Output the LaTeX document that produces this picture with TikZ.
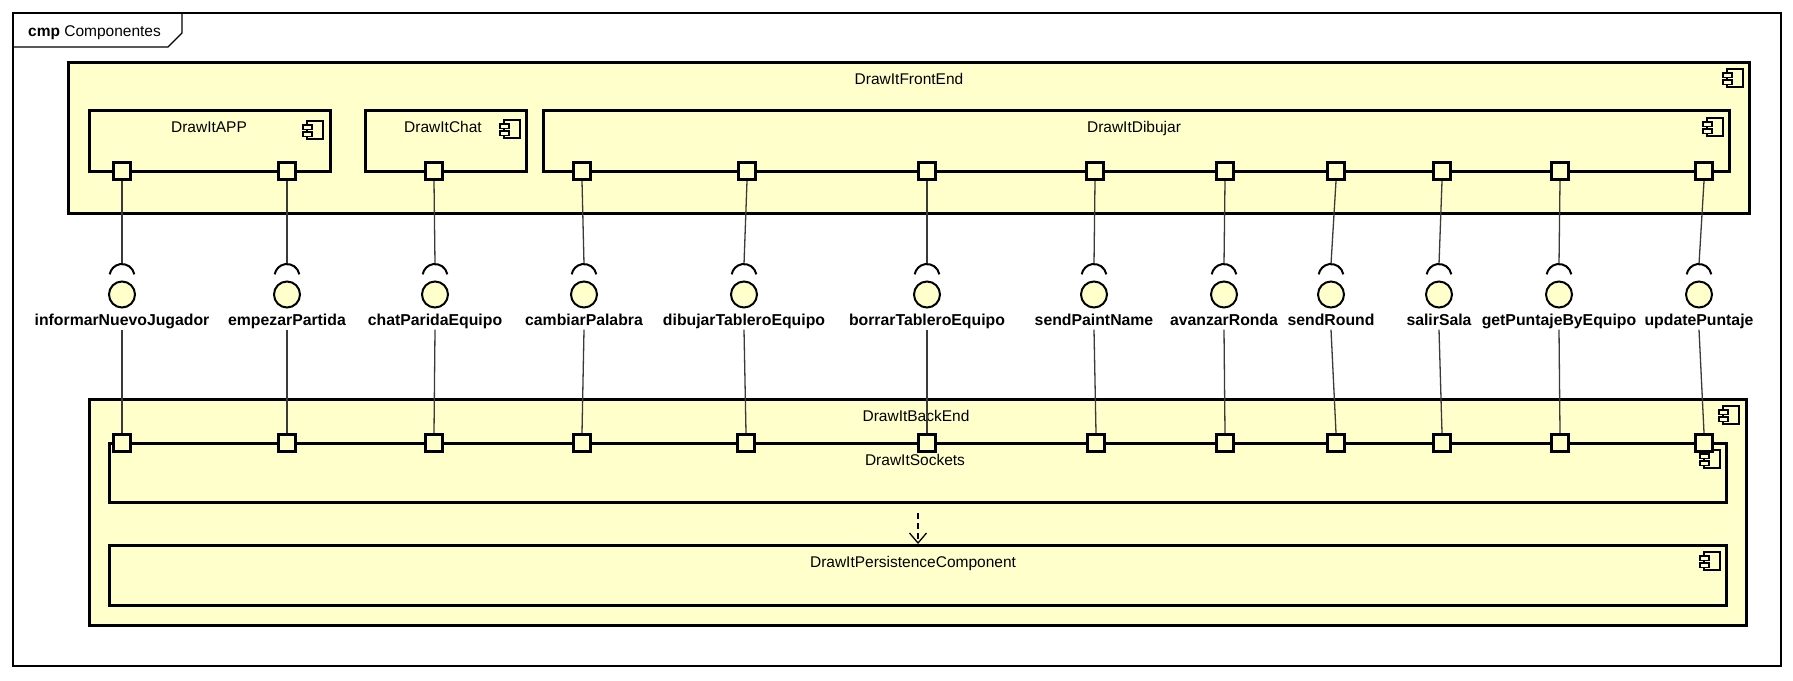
\documentclass[tikz,border=0pt]{standalone}
\usepackage{fontspec}
\setmainfont{Liberation Sans}
\usetikzlibrary{arrows.meta}
\definecolor{compfill}{HTML}{FFFFCC}
\definecolor{connline}{HTML}{3A3A3A}
\begin{document}
\begin{tikzpicture}[x=1pt,y=-1pt,
  frame/.style={draw=black,line width=1.3pt},
  box/.style={draw=black,fill=compfill,line width=3pt,inner sep=0},
  cname/.style={font=\fontsize{15.5}{18}\selectfont,anchor=base,inner sep=0},
  port/.style={draw=black,fill=compfill,line width=2.8pt,minimum size=17.2pt,inner sep=0},
  iface/.style={circle,draw=black,fill=compfill,line width=2pt,minimum size=26pt,inner sep=0},
  sock/.style={draw=black,line width=2pt},
  ilabel/.style={font=\bfseries\fontsize{15.8}{18}\selectfont,anchor=base,
    text height=12pt,text depth=3.5pt,inner sep=1pt},
  conn/.style={draw=connline,line width=1.3pt},
  dep/.style={draw=black,line width=1.3pt,dash pattern=on 6pt off 4pt,
    -{Straight Barb[length=10pt,width=17pt,line width=1.3pt]}},
  cicon/.pic={
    \draw[black,line width=1.2pt] (-16,0) rectangle (0,18);
    \draw[black,fill=compfill,line width=1.2pt] (-20,4) rectangle (-11,8.5);
    \draw[black,fill=compfill,line width=1.2pt] (-20,11) rectangle (-11,15.5);
  }]
\useasboundingbox (0,0) rectangle (1793,680);

% diagram frame with its name tab
\node[frame,minimum width=1768pt,minimum height=653pt,inner sep=0] (frame) at (397+500,339.5) {};
\draw[frame] (13,47) -- (168,47) -- (182,33) -- (182,13);
\node[anchor=base west,inner sep=0,font=\fontsize{15.5}{18}\selectfont] (title) at (28,36.5) {\textbf{cmp} Componentes};

% front end component and its parts
\node[box,minimum width=1681pt,minimum height=151pt] (fe) at (909,138) {};
\node[cname] (feL) at (909,84) {DrawItFrontEnd};
\pic at (1743,69) {cicon};

\node[box,minimum width=241pt,minimum height=60.5pt] (app) at (210,140.75) {};
\node[cname] (appL) at (209,132) {DrawItAPP};
\pic at (323,121) {cicon};

\node[box,minimum width=161pt,minimum height=60.5pt] (chat) at (446,140.75) {};
\node[cname] (chatL) at (443,132) {DrawItChat};
\pic at (520,120) {cicon};

\node[box,minimum width=1186pt,minimum height=60.5pt] (dib) at (1136.5,140.75) {};
\node[cname] (dibL) at (1134,132) {DrawItDibujar};
\pic at (1723,118) {cicon};

% back end component and its parts
\node[box,minimum width=1657pt,minimum height=226pt] (be) at (918,512.5) {};
\node[cname] (beL) at (916,421) {DrawItBackEnd};
\pic at (1739,406) {cicon};

\node[box,minimum width=1617pt,minimum height=59.5pt] (sock) at (918,472.75) {};
\node[cname] (sockL) at (915,465) {DrawItSockets};
\pic at (1720,450) {cicon};

\node[box,minimum width=1617pt,minimum height=60pt] (pers) at (918,575.5) {};
\node[cname] (persL) at (913,567) {DrawItPersistenceComponent};
\pic at (1720,552) {cicon};

\draw[dep] ([yshift=-9pt]sock.south) -- (pers.north);

% provided / required interfaces between the two layers
\foreach \i/\fx/\cx/\bx/\txt in {
  1/122/122/122/informarNuevoJugador,
  2/287/287/287/empezarPartida,
  3/434/435/434/chatParidaEquipo,
  4/582/584/582/cambiarPalabra,
  5/747/744/746/dibujarTableroEquipo,
  6/927/927/927/borrarTableroEquipo,
  7/1095/1094/1096/sendPaintName,
  8/1225/1224/1225/avanzarRonda,
  9/1336/1331/1336/sendRound,
  10/1442/1439/1442/salirSala,
  11/1560/1559/1560/getPuntajeByEquipo,
  12/1704/1699/1704/updatePuntaje}{
  \node[port] (fp\i) at (\fx,171) {};
  \node[port] (bp\i) at (\bx,443) {};
  \coordinate (ac\i) at (\cx,276.5);
  \coordinate (sk\i) at (\cx,264);
  \node[iface] (if\i) at (\cx,294.5) {};
  \node[ilabel] (il\i) at (\cx,325) {\txt};
  \draw[conn] (fp\i.south) -- (sk\i);
  \draw[sock] ([shift={(10:12.5pt)}]ac\i) arc[start angle=10,end angle=170,radius=12.5pt];
  \draw[conn] (il\i.south) -- (bp\i.north);
}
\end{tikzpicture}
\end{document}
